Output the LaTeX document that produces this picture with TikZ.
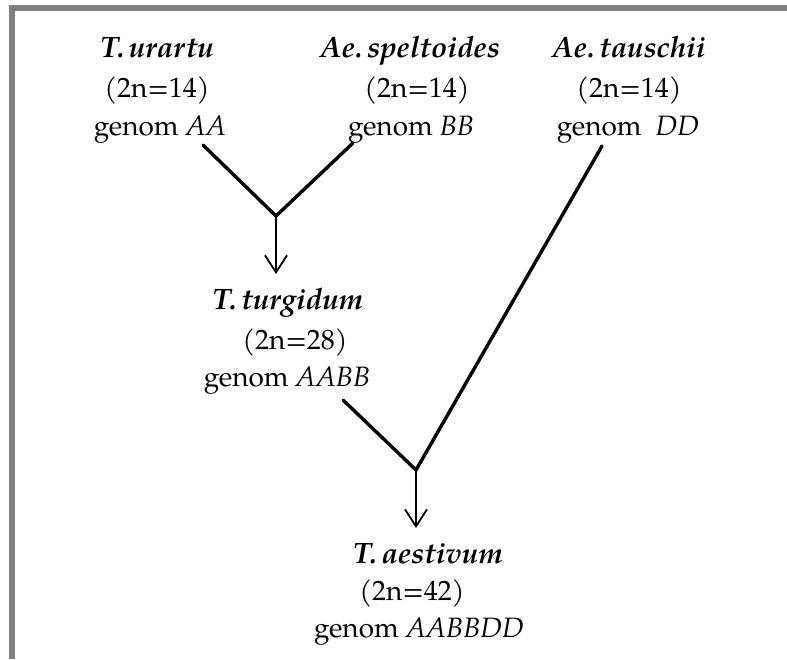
\documentclass[tikz,border=0pt]{standalone}
\usepackage{fontspec}
\setmainfont{TeX Gyre Pagella}
\usetikzlibrary{arrows.meta}
\definecolor{framegray}{HTML}{808080}
\begin{document}
\begin{tikzpicture}[x=1pt,y=-1pt,
  txt/.style={font=\fontsize{28}{34}\selectfont, inner sep=0pt, anchor=base},
  ttl/.style={txt, font=\fontsize{29.5}{34}\selectfont\bfseries\itshape},
  branch/.style={line width=3.4pt, line cap=round, line join=miter},
  descent/.style={line width=1.8pt, -{Straight Barb[length=17pt,width=22pt,line width=1.8pt]}}]
\fill[white] (0,0) rectangle (787,659);
\useasboundingbox (0,0) rectangle (787,659);
\draw[framegray, line width=6pt] (12,659) -- (12,8) -- (787,8);
% T. urartu
\node[ttl] (u1) at (157,57) {T.\,urartu};
\node[txt] (u2) at (157,97) {(2n=14)};
\node[txt] (u3) at (160,135) {genom \textit{AA}};
% Ae. speltoides
\node[ttl] (s1) at (410,57) {Ae.\,speltoides};
\node[txt] (s2) at (417,97) {(2n=14)};
\node[txt] (s3) at (411,135) {genom \textit{BB}};
% Ae. tauschii
\node[ttl] (t1) at (629,57) {Ae.\,tauschii};
\node[txt] (t2) at (629,97) {(2n=14)};
\node[txt] (t3) at (628,135) {genom\ \ \textit{DD}};
% T. turgidum
\node[ttl] (g1) at (288,309) {T.\,turgidum};
\node[txt] (g2) at (295,349) {(2n=28)};
\node[txt] (g3) at (287,386) {genom \textit{AABB}};
% T. aestivum
\node[ttl] (e1) at (428,563) {T.\,aestivum};
\node[txt] (e2) at (412,600) {(2n=42)};
\node[txt] (e3) at (419,637) {genom \textit{AABBDD}};
% connectors
\coordinate (aL) at (203,145);
\coordinate (aR) at (353,143);
\coordinate (j1) at (276,216);
\coordinate (j1e) at (276,274);
\coordinate (bL) at (343,400);
\coordinate (bR) at (602,146);
\coordinate (j2) at (416,470);
\coordinate (j2e) at (416,528);
\draw[branch] (aL) -- (j1) -- (aR);
\draw[descent] (j1) -- (j1e);
\draw[branch] (bL) -- (j2) -- (bR);
\draw[descent] (j2) -- (j2e);
\end{tikzpicture}
\end{document}
